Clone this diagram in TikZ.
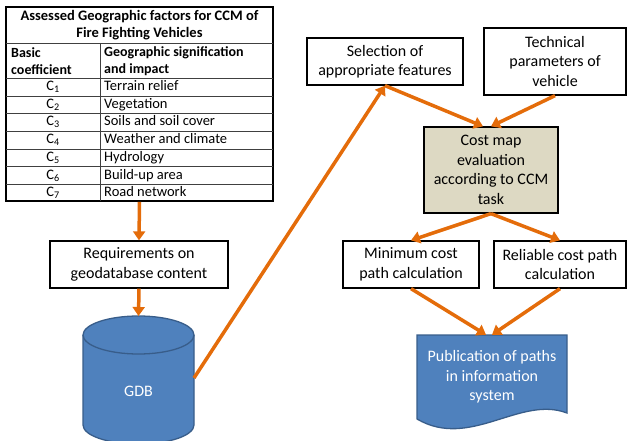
\documentclass[tikz,border=0pt]{standalone}
\usepackage{fontspec}
\setmainfont{Carlito}
\usepackage{tikz}
\usetikzlibrary{shapes,arrows,arrows.meta,positioning,calc}
\definecolor{flowarrow}{RGB}{228,108,10}
\definecolor{gdbfill}{RGB}{79,129,189}
\definecolor{gdbline}{RGB}{56,93,138}
\definecolor{taskfill}{RGB}{221,217,195}

\begin{document}
\begin{tikzpicture}[x=1pt,y=-1pt,
	stepbox/.style={draw=black, line width=1.3pt, fill=white, align=center, inner sep=2pt, font=\fontsize{16}{19.5}\selectfont},
	flow/.style={-{Triangle[length=9pt,width=12pt]}, line width=3.5pt, color=flowarrow},
	cell/.style={font=\fontsize{14.5}{16}\selectfont, inner sep=0pt, text height=10pt, text depth=3pt},
	hcell/.style={font=\fontsize{14}{16.5}\selectfont\bfseries, inner sep=0pt}]
	\useasboundingbox (0,0) rectangle (627,441);
	
	% table of factors
	\node[draw, line width=1.8pt, minimum width=267, minimum height=194, inner sep=0pt] (tab) at (139.5,104) {};
	\draw[line width=0.8pt, color=black!75] (6,43) -- (273,43) (6,78.3) -- (273,78.3) (6,96) -- (273,96) (6,113.3) -- (273,113.3) (6,131) -- (273,131) (6,149) -- (273,149) (6,166.7) -- (273,166.7) (6,184.3) -- (273,184.3) (100,43) -- (100,201);
	\node[hcell, align=center, font=\fontsize{14.5}{16.5}\selectfont\bfseries] (title) at (139.5,25) {Assessed Geographic factors for CCM of\\Fire Fighting Vehicles};
	\node[hcell, align=left, anchor=west] (hbasic) at (11,61) {Basic\\coefficient};
	\node[hcell, align=left, anchor=west] (hgeo) at (104,61) {Geographic signification\\and impact};
	\node[cell] (c1) at (53,87.2) {C\textsubscript{1}};
	\node[cell, anchor=west] (f1) at (104,87.2) {Terrain relief};
	\node[cell] (c2) at (53,104.7) {C\textsubscript{2}};
	\node[cell, anchor=west] (f2) at (104,104.7) {Vegetation};
	\node[cell] (c3) at (53,122.2) {C\textsubscript{3}};
	\node[cell, anchor=west] (f3) at (104,122.2) {Soils and soil cover};
	\node[cell] (c4) at (53,140) {C\textsubscript{4}};
	\node[cell, anchor=west] (f4) at (104,140) {Weather and climate};
	\node[cell] (c5) at (53,157.9) {C\textsubscript{5}};
	\node[cell, anchor=west] (f5) at (104,157.9) {Hydrology};
	\node[cell] (c6) at (53,175.5) {C\textsubscript{6}};
	\node[cell, anchor=west] (f6) at (104,175.5) {Build-up area};
	\node[cell] (c7) at (53,193) {C\textsubscript{7}};
	\node[cell, anchor=west] (f7) at (104,193) {Road network};
	
	% boxes
	\node[stepbox, minimum width=178, minimum height=47] (req) at (139,264.5) {Requirements on\\geodatabase content};
	\node[stepbox, minimum width=156, minimum height=47] (sel) at (385,61.5) {Selection of\\appropriate features};
	\node[stepbox, minimum width=142, minimum height=67] (tech) at (555,61.5) {Technical\\parameters of\\vehicle};
	\node[stepbox, fill=taskfill, minimum width=134, minimum height=86] (cost) at (491,170) {Cost map\\evaluation\\according to CCM\\task};
	\node[stepbox, minimum width=136, minimum height=47] (minc) at (411,264.5) {Minimum cost\\path calculation};
	\node[stepbox, minimum width=132, minimum height=47] (relc) at (560,264.5) {Reliable cost path\\calculation};
	
	% database cylinder
	\filldraw[fill=gdbfill, draw=gdbline, line width=1.3pt] (83,335) -- (83,425) arc[start angle=180, end angle=360, x radius=55.5pt, y radius=19pt] -- (194,335) arc[start angle=0, end angle=180, x radius=55.5pt, y radius=19pt] -- cycle;
	\draw[gdbline, line width=1.3pt] (83,335) arc[start angle=180, end angle=360, x radius=55.5pt, y radius=19pt];
	\coordinate (gdbtop) at (138.5,316);
	\coordinate (gdbside) at (194,378);
	\node[text=white, font=\fontsize{16}{19.5}\selectfont] (gdb) at (138.5,391) {GDB};
	
	% document shape
	\filldraw[fill=gdbfill, draw=gdbline, line width=1.3pt] (417,335) -- (567,335) -- (567,413) .. controls (520,395) and (470,450) .. (417,419) -- cycle;
	\node[text=white, align=center, minimum width=150, minimum height=84, font=\fontsize{16}{19.5}\selectfont] (pub) at (492,377) {Publication of paths\\in information\\system};
	
	\draw[flow] (tab.south) -- (req.north);
	\draw[flow] (req.south) -- (gdbtop);
	\draw[flow] (gdbside) -- (sel.south);
	\draw[flow] (sel.south) -- ([xshift=-8pt]cost.north);
	\draw[flow] (tech.south) -- (cost.north);
	\draw[flow] (cost.south) -- (minc.north);
	\draw[flow] (cost.south) -- (relc.north);
	\draw[flow] (minc.south) -- ([xshift=-6pt]pub.north);
	\draw[flow] (relc.south) -- (pub.north);
\end{tikzpicture}
\end{document}
